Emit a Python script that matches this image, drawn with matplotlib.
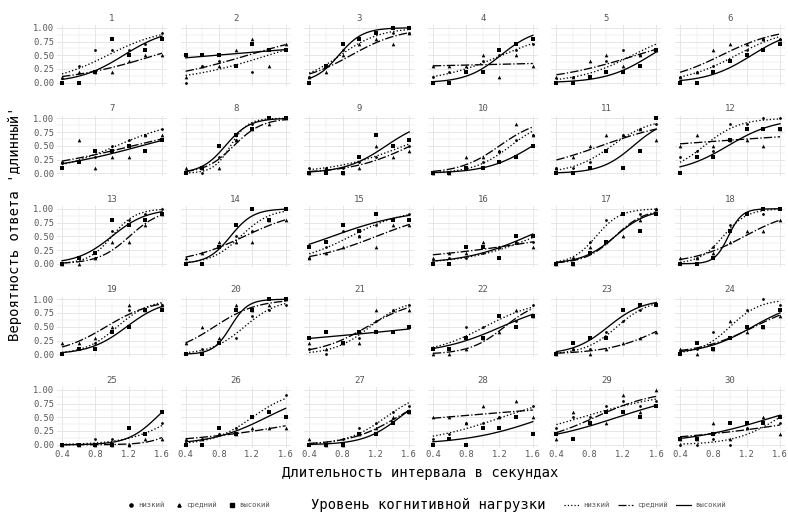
import numpy as np
import matplotlib
matplotlib.use("Agg")
import matplotlib.pyplot as plt
from matplotlib.lines import Line2D

plt.rcParams["font.family"] = ["DejaVu Sans Mono"]

# длительность интервала, с
durations = [0.4, 0.6, 0.8, 1.0, 1.2, 1.4, 1.6]
participants = list(range(1, 31))

# доля ответов 'длинный' по участникам (строка = участник)
p_low = [
    [0.0, 0.3, 0.6, 0.6, 0.6, 0.7, 0.9], [0.0, 0.3, 0.4, 0.3, 0.2, 0.6, 0.6],
    [0.1, 0.3, 0.6, 0.8, 0.9, 0.9, 0.9], [0.1, 0.2, 0.2, 0.4, 0.5, 0.6, 0.7],
    [0.0, 0.1, 0.1, 0.4, 0.6, 0.5, 0.6], [0.1, 0.2, 0.3, 0.4, 0.6, 0.8, 0.8],
    [0.2, 0.2, 0.3, 0.5, 0.6, 0.7, 0.8], [0.0, 0.0, 0.3, 0.6, 0.9, 1.0, 1.0],
    [0.1, 0.1, 0.1, 0.2, 0.3, 0.5, 0.5], [0.0, 0.0, 0.1, 0.2, 0.4, 0.6, 0.7],
    [0.1, 0.1, 0.2, 0.4, 0.7, 0.8, 0.9], [0.3, 0.4, 0.4, 0.9, 0.9, 1.0, 1.0],
    [0.0, 0.1, 0.1, 0.6, 0.8, 0.9, 1.0], [0.0, 0.0, 0.3, 0.5, 0.6, 0.8, 1.0],
    [0.1, 0.3, 0.6, 0.5, 0.7, 0.8, 0.9], [0.0, 0.1, 0.1, 0.2, 0.3, 0.4, 0.4],
    [0.0, 0.1, 0.4, 0.8, 0.9, 0.9, 1.0], [0.0, 0.1, 0.3, 0.7, 0.9, 0.9, 1.0],
    [0.0, 0.1, 0.2, 0.4, 0.8, 0.8, 0.9], [0.0, 0.1, 0.2, 0.3, 0.7, 0.8, 0.9],
    [0.1, 0.0, 0.2, 0.3, 0.6, 0.8, 0.9], [0.1, 0.1, 0.5, 0.5, 0.7, 0.6, 0.9],
    [0.0, 0.1, 0.1, 0.4, 0.6, 0.8, 0.9], [0.0, 0.1, 0.4, 0.3, 0.8, 1.0, 0.9],
    [0.0, 0.0, 0.1, 0.1, 0.0, 0.2, 0.4], [0.0, 0.1, 0.2, 0.3, 0.5, 0.6, 0.9],
    [0.0, 0.0, 0.1, 0.3, 0.4, 0.6, 0.7], [0.1, 0.2, 0.4, 0.4, 0.5, 0.5, 0.7],
    [0.3, 0.5, 0.5, 0.7, 0.8, 0.7, 0.8], [0.0, 0.0, 0.1, 0.0, 0.3, 0.4, 0.4],
]
p_mid = [
    [0.1, 0.2, 0.2, 0.2, 0.4, 0.5, 0.5], [0.1, 0.3, 0.3, 0.6, 0.8, 0.3, 0.7],
    [0.1, 0.2, 0.5, 0.7, 0.8, 0.7, 0.9], [0.3, 0.3, 0.3, 0.5, 0.1, 0.5, 0.3],
    [0.1, 0.1, 0.4, 0.5, 0.3, 0.5, 0.6], [0.1, 0.2, 0.6, 0.7, 0.7, 0.8, 0.8],
    [0.2, 0.6, 0.1, 0.3, 0.3, 0.7, 0.7], [0.1, 0.1, 0.1, 0.6, 0.8, 0.9, 1.0],
    [0.0, 0.1, 0.0, 0.1, 0.5, 0.3, 0.4], [0.0, 0.0, 0.3, 0.3, 0.4, 0.9, 0.7],
    [0.1, 0.3, 0.5, 0.7, 0.7, 0.8, 0.6], [0.5, 0.7, 0.5, 0.6, 0.6, 0.5, 0.8],
    [0.0, 0.0, 0.1, 0.4, 0.4, 0.7, 0.9], [0.1, 0.2, 0.4, 0.4, 0.4, 0.8, 0.8],
    [0.1, 0.2, 0.3, 0.5, 0.3, 0.7, 0.7], [0.1, 0.2, 0.2, 0.4, 0.3, 0.4, 0.3],
    [0.0, 0.0, 0.3, 0.4, 0.5, 0.8, 1.0], [0.1, 0.1, 0.2, 0.4, 0.6, 0.6, 0.8],
    [0.2, 0.2, 0.3, 0.5, 0.9, 0.8, 0.9], [0.2, 0.5, 0.3, 0.9, 0.8, 0.9, 1.0],
    [0.2, 0.1, 0.2, 0.2, 0.8, 0.8, 0.8], [0.0, 0.0, 0.1, 0.3, 0.4, 0.8, 0.7],
    [0.0, 0.1, 0.0, 0.1, 0.2, 0.3, 0.4], [0.1, 0.0, 0.1, 0.6, 0.4, 0.5, 0.7],
    [0.0, 0.0, 0.0, 0.0, 0.0, 0.1, 0.1], [0.1, 0.1, 0.2, 0.2, 0.3, 0.3, 0.3],
    [0.1, 0.0, 0.0, 0.2, 0.3, 0.5, 0.6], [0.5, 0.5, 0.4, 0.7, 0.5, 0.8, 0.5],
    [0.1, 0.6, 0.4, 0.4, 0.9, 0.6, 1.0], [0.1, 0.1, 0.4, 0.1, 0.3, 0.5, 0.2],
]
p_high = [
    [0.0, 0.0, 0.2, 0.8, 0.5, 0.6, 0.8], [0.5, 0.5, 0.5, 0.3, 0.7, 0.6, 0.6],
    [0.0, 0.3, 0.7, 0.8, 0.9, 1.0, 1.0], [0.0, 0.0, 0.2, 0.2, 0.6, 0.7, 0.8],
    [0.0, 0.0, 0.1, 0.2, 0.2, 0.3, 0.6], [0.0, 0.0, 0.2, 0.4, 0.5, 0.6, 0.7],
    [0.1, 0.2, 0.4, 0.4, 0.5, 0.4, 0.6], [0.0, 0.1, 0.5, 0.7, 0.8, 1.0, 1.0],
    [0.0, 0.0, 0.0, 0.3, 0.7, 0.5, 0.6], [0.0, 0.0, 0.1, 0.1, 0.2, 0.3, 0.5],
    [0.0, 0.0, 0.1, 0.4, 0.1, 0.4, 1.0], [0.0, 0.3, 0.3, 0.6, 0.8, 0.8, 0.8],
    [0.0, 0.1, 0.2, 0.8, 0.7, 0.8, 0.9], [0.0, 0.0, 0.3, 0.7, 1.0, 0.8, 1.0],
    [0.3, 0.4, 0.7, 0.6, 0.9, 0.8, 0.8], [0.0, 0.0, 0.3, 0.3, 0.1, 0.5, 0.5],
    [0.0, 0.0, 0.2, 0.4, 0.9, 0.6, 0.9], [0.0, 0.0, 0.1, 0.6, 0.9, 1.0, 1.0],
    [0.0, 0.1, 0.1, 0.4, 0.5, 0.8, 0.8], [0.0, 0.0, 0.2, 0.8, 0.8, 1.0, 1.0],
    [0.3, 0.4, 0.2, 0.4, 0.4, 0.4, 0.5], [0.1, 0.1, 0.3, 0.3, 0.7, 0.5, 0.7],
    [0.0, 0.2, 0.3, 0.3, 0.8, 0.9, 0.9], [0.0, 0.2, 0.1, 0.3, 0.5, 0.5, 0.8],
    [0.0, 0.0, 0.0, 0.0, 0.3, 0.2, 0.6], [0.0, 0.0, 0.3, 0.2, 0.5, 0.6, 0.5],
    [0.0, 0.0, 0.0, 0.2, 0.2, 0.4, 0.6], [0.0, 0.1, 0.0, 0.3, 0.3, 0.5, 0.2],
    [0.2, 0.1, 0.4, 0.6, 0.6, 0.5, 0.7], [0.1, 0.1, 0.2, 0.4, 0.4, 0.4, 0.5],
]

groups = [
    ("низкий", p_low, "o", ":", 4),
    ("средний", p_mid, "^", "-.", 7),
    ("высокий", p_high, "s", "-", 6),
]
N_TRIALS = 10


def fit_logit(x, p, n=N_TRIALS):
    # glm(binomial) через IRLS, как geom_smooth(method = "glm")
    X = np.column_stack([np.ones_like(x), x])
    beta = np.zeros(2)
    for _ in range(100):
        eta = X @ beta
        mu = np.clip(1 / (1 + np.exp(-eta)), 1e-9, 1 - 1e-9)
        w = n * mu * (1 - mu)
        z = eta + (p - mu) / (mu * (1 - mu))
        beta_new = np.linalg.solve(X.T @ (w[:, None] * X), X.T @ (w * z))
        if np.max(np.abs(beta_new - beta)) < 1e-8:
            beta = beta_new
            break
        beta = beta_new
    return beta


W, H = 788, 512
fig = plt.figure(figsize=(W / 100, H / 100), dpi=100)

x = np.array(durations)
xs = np.linspace(0.4, 1.6, 100)
GRID = "#e6e6e6"
TXT = "#555555"

col_left = [57 + 123.6 * c for c in range(6)]
row_top = [25, 115.5, 206, 296.5, 387]
pw, ph = 110, 60.5

for i, pid in enumerate(participants):
    r, c = divmod(i, 6)
    ax = fig.add_axes([col_left[c] / W, 1 - (row_top[r] + ph) / H, pw / W, ph / H])
    ax.set_xlim(0.34, 1.66)
    ax.set_ylim(-0.05, 1.05)
    ax.set_xticks([0.4, 0.8, 1.2, 1.6])
    ax.set_xticks([0.6, 1.0, 1.4], minor=True)
    ax.set_yticks([0, 0.25, 0.5, 0.75, 1.0])
    ax.set_yticks([0.125, 0.375, 0.625, 0.875], minor=True)
    ax.grid(which="major", color=GRID, lw=0.7)
    ax.grid(which="minor", color=GRID, lw=0.35)
    ax.set_axisbelow(True)
    for s in ax.spines.values():
        s.set_visible(False)
    ax.tick_params(which="both", length=0, labelsize=6.3, colors=TXT, pad=2)
    if c == 0:
        ax.set_yticklabels(["0.00", "0.25", "0.50", "0.75", "1.00"])
    else:
        ax.set_yticklabels([])
    if r == 4:
        ax.set_xticklabels(["0.4", "0.8", "1.2", "1.6"])
    else:
        ax.set_xticklabels([])
    ax.set_title(str(pid), fontsize=6.5, color=TXT, pad=3)

    for name, data, mk, ls, sz in groups:
        p = np.array(data[i])
        ax.scatter(x, p, marker=mk, s=sz, color="black", linewidths=0, zorder=3)
        b = fit_logit(x, p)
        ax.plot(xs, 1 / (1 + np.exp(-(b[0] + b[1] * xs))), color="black",
                ls=ls, lw=0.95, zorder=2)

fig.text(420 / W, 1 - 473 / H, "Длительность интервала в секундах",
         ha="center", va="center", fontsize=10)
fig.text(15 / W, 1 - 224 / H, "Вероятность ответа 'длинный'",
         ha="center", va="center", rotation=90, fontsize=10)

# легенда
pt_handles = [Line2D([], [], ls="none", marker=g[2], ms=2.3, color="black")
              for g in groups]
ln_handles = [Line2D([], [], ls=g[3], lw=0.9, color="black") for g in groups]
labels = [g[0] for g in groups]
fig.legend(pt_handles, labels, loc="center", bbox_to_anchor=(199 / W, 1 - 505 / H),
           ncol=3, frameon=False, fontsize=5.2, handlelength=0.8,
           handletextpad=0.6, columnspacing=1.6, labelcolor=TXT)
fig.text(428 / W, 1 - 505 / H, "Уровень когнитивной нагрузки",
         ha="center", va="center", fontsize=10)
fig.legend(ln_handles, labels, loc="center", bbox_to_anchor=(645 / W, 1 - 505 / H),
           ncol=3, frameon=False, fontsize=5.2, handlelength=2.0,
           handletextpad=0.6, columnspacing=1.2, labelcolor=TXT)

fig.savefig("out.png", dpi=100)
